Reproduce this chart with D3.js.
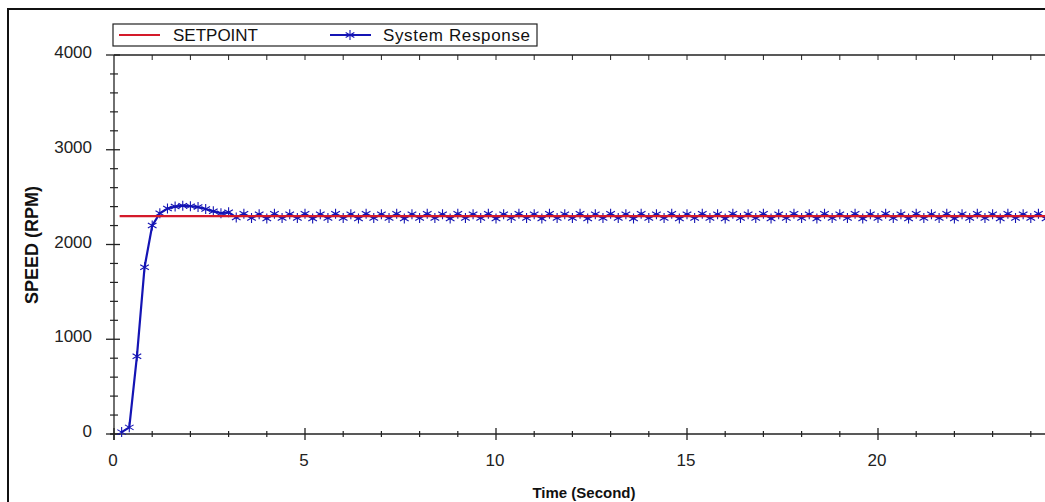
<!DOCTYPE html>
<html lang="en">

<head>
    <meta charset="UTF-8">
    <title>Speed response</title>
    <script src="https://d3js.org/d3.v7.min.js"></script>
    <style>
        html, body {
            margin: 0;
            padding: 0;
            background: #fff;
            overflow: hidden;
        }

        body {
            font-family: Arial, "Liberation Sans", sans-serif;
        }

        svg {
            display: block;
        }

        .tick-label {
            font-size: 17px;
            fill: #222;
        }

        .axis-title {
            font-size: 15px;
            font-weight: bold;
            fill: #111;
        }

        .legend-text {
            font-size: 17px;
            fill: #111;
        }
    </style>
</head>

<body>
    <div id="chart"></div>

    <script>
        // data
        const startTime = 0.2;     // first sample (s)
        const sampleStep = 0.2;    // sampling period (s)
        const setpoint = 2300;     // RPM
        const seriesNames = ["SETPOINT", "System Response"];
        const response = [
            20, 70, 820, 1760, 2200, 2330, 2380, 2400, 2410, 2405,
            2395, 2375, 2350, 2330, 2340, 2285, 2325, 2280, 2320, 2275,
            2325, 2280, 2320, 2280, 2325, 2275, 2320, 2280, 2325, 2280,
            2320, 2275, 2325, 2280, 2320, 2280, 2325, 2275, 2320, 2280,
            2325, 2280, 2320, 2275, 2325, 2280, 2320, 2280, 2325, 2275,
            2320, 2280, 2325, 2280, 2320, 2275, 2325, 2280, 2320, 2280,
            2325, 2275, 2320, 2280, 2325, 2280, 2320, 2275, 2325, 2280,
            2320, 2280, 2325, 2275, 2320, 2280, 2325, 2280, 2320, 2275,
            2325, 2280, 2320, 2280, 2325, 2275, 2320, 2280, 2325, 2280,
            2320, 2275, 2325, 2280, 2320, 2280, 2325, 2275, 2320, 2280,
            2325, 2280, 2320, 2275, 2325, 2280, 2320, 2280, 2325, 2275,
            2320, 2280, 2325, 2280, 2320, 2275, 2325, 2280, 2320, 2280,
            2325, 2275, 2320, 2280
        ];
        const xMajorTicks = [0, 5, 10, 15, 20];
        const yMajorTicks = [0, 1000, 2000, 3000, 4000];

        const W = 1045, H = 502;
        const plotLeft = 114, plotTop = 55, plotBottom = 434;

        const svg = d3.select("#chart").append("svg")
            .attr("width", W)
            .attr("height", H);

        // the plot runs on past the right edge of the picture (cropped at ~24.4 s)
        const x = d3.scaleLinear().domain([0, 25]).range([plotLeft, plotLeft + 25 * 38.2]);
        const y = d3.scaleLinear().domain([0, 4000]).range([plotBottom, plotTop]);

        const data = response.map((v, i) => ({ t: startTime + i * sampleStep, v: v }));

        // outer frame
        svg.append("rect")
            .attr("x", 8).attr("y", 9)
            .attr("width", W + 20).attr("height", H + 20)
            .attr("fill", "none")
            .attr("stroke", "#111")
            .attr("stroke-width", 2);

        // top border with small ticks
        svg.append("line")
            .attr("x1", plotLeft).attr("x2", W + 10)
            .attr("y1", plotTop).attr("y2", plotTop)
            .attr("stroke", "#222").attr("stroke-width", 1.3);
        svg.append("g").selectAll("line")
            .data(d3.range(1, 26))
            .join("line")
            .attr("x1", d => x(d)).attr("x2", d => x(d))
            .attr("y1", plotTop).attr("y2", plotTop + 5)
            .attr("stroke", "#222");

        // x axis (major ticks cross the line, minor ticks smaller)
        const xg = svg.append("g");
        xg.append("line")
            .attr("x1", plotLeft - 4).attr("x2", W + 10)
            .attr("y1", plotBottom).attr("y2", plotBottom)
            .attr("stroke", "#222").attr("stroke-width", 1.3);
        xg.selectAll(".minor")
            .data(d3.range(0, 26).filter(d => d % 5 !== 0))
            .join("line")
            .attr("class", "minor")
            .attr("x1", d => x(d)).attr("x2", d => x(d))
            .attr("y1", plotBottom - 3).attr("y2", plotBottom + 3)
            .attr("stroke", "#222").attr("stroke-width", 1.2);
        xg.selectAll(".major")
            .data(xMajorTicks)
            .join("line")
            .attr("class", "major")
            .attr("x1", d => x(d)).attr("x2", d => x(d))
            .attr("y1", plotBottom - 6).attr("y2", plotBottom + 6)
            .attr("stroke", "#222").attr("stroke-width", 1.3);
        xg.selectAll("text")
            .data(xMajorTicks)
            .join("text")
            .attr("class", "tick-label")
            .attr("x", d => x(d) - 1)
            .attr("y", 466)
            .attr("text-anchor", "middle")
            .text(d => d);

        // y axis
        const yg = svg.append("g");
        yg.append("line")
            .attr("x1", plotLeft).attr("x2", plotLeft)
            .attr("y1", plotTop).attr("y2", plotBottom + 6)
            .attr("stroke", "#222").attr("stroke-width", 1.3);
        yg.selectAll(".minor")
            .data(d3.range(0, 4001, 200).filter(d => d % 1000 !== 0))
            .join("line")
            .attr("class", "minor")
            .attr("x1", plotLeft - 4).attr("x2", plotLeft + 4)
            .attr("y1", d => y(d)).attr("y2", d => y(d))
            .attr("stroke", "#222").attr("stroke-width", 1.2);
        yg.selectAll(".major")
            .data(yMajorTicks)
            .join("line")
            .attr("class", "major")
            .attr("x1", plotLeft - 8).attr("x2", plotLeft + 6)
            .attr("y1", d => y(d)).attr("y2", d => y(d))
            .attr("stroke", "#222").attr("stroke-width", 1.3);
        yg.selectAll("text")
            .data(yMajorTicks)
            .join("text")
            .attr("class", "tick-label")
            .attr("x", 92)
            .attr("y", d => y(d) + 3)
            .attr("text-anchor", "end")
            .text(d => d);

        // axis titles
        svg.append("text")
            .attr("class", "axis-title")
            .attr("x", 584).attr("y", 498)
            .attr("text-anchor", "middle")
            .text("Time (Second)");
        svg.append("text")
            .attr("class", "axis-title")
            .style("font-size", "18px")
            .attr("transform", "translate(38,245) rotate(-90)")
            .attr("text-anchor", "middle")
            .text("SPEED (RPM)");

        // response line + star markers
        const blue = "#1414b4";
        svg.append("path")
            .datum(data)
            .attr("fill", "none")
            .attr("stroke", blue)
            .attr("stroke-width", 2.2)
            .attr("d", d3.line().x(d => x(d.t)).y(d => y(d.v)));

        const star = d3.symbol().type(d3.symbolAsterisk).size(70);
        svg.append("g").selectAll("path")
            .data(data)
            .join("path")
            .attr("transform", d => `translate(${x(d.t)},${y(d.v)})`)
            .attr("d", star)
            .attr("fill", "none")
            .attr("stroke", blue)
            .attr("stroke-width", 1.1);

        // setpoint line, drawn over the response as in the original
        svg.append("line")
            .attr("x1", x(startTime) - 2).attr("x2", W + 10)
            .attr("y1", y(setpoint)).attr("y2", y(setpoint))
            .attr("stroke", "#d41a2a").attr("stroke-width", 2.2);

        // legend
        const lg = svg.append("g");
        lg.append("rect")
            .attr("x", 113).attr("y", 24)
            .attr("width", 424).attr("height", 22)
            .attr("fill", "#fff")
            .attr("stroke", "#222").attr("stroke-width", 1.2);
        lg.append("line")
            .attr("x1", 119).attr("x2", 160)
            .attr("y1", 35).attr("y2", 35)
            .attr("stroke", "#d41a2a").attr("stroke-width", 2.2);
        lg.append("text")
            .attr("class", "legend-text")
            .attr("x", 173).attr("y", 41)
            .text(seriesNames[0]);
        lg.append("line")
            .attr("x1", 330).attr("x2", 371)
            .attr("y1", 35).attr("y2", 35)
            .attr("stroke", blue).attr("stroke-width", 2.2);
        lg.append("path")
            .attr("transform", "translate(350,35)")
            .attr("d", star)
            .attr("fill", "none")
            .attr("stroke", blue)
            .attr("stroke-width", 1.1);
        lg.append("text")
            .attr("class", "legend-text")
            .attr("x", 383).attr("y", 41)
            .attr("textLength", 147)
            .text(seriesNames[1]);
    </script>
</body>

</html>
